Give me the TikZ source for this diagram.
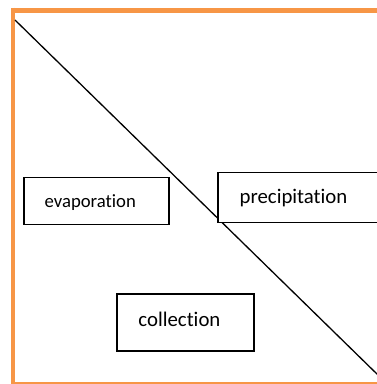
\documentclass[tikz,border=0pt]{standalone}
\usepackage{fontspec}
\setmainfont{Carlito}[RawFeature={-liga;-clig;-dlig}]
\definecolor{frameorange}{RGB}{247,150,70}
\begin{document}
\begin{tikzpicture}[x=1pt,y=-1pt,
  boxshape/.style={draw=black,line width=1.4pt,rectangle,inner sep=0pt},
  lblsmall/.style={anchor=base west,inner sep=0pt,font=\fontsize{18.7}{22}\selectfont},
  lblbig/.style={anchor=base west,inner sep=0pt,font=\fontsize{20.8}{24}\selectfont},
  framestroke/.style={draw=frameorange,line cap=butt}]
\useasboundingbox (0,0) rectangle (377,384);
\clip (0,0) rectangle (377,384);
% orange frame
\coordinate (ftl) at (11,10);
\coordinate (ftr) at (378,10);
\coordinate (flt) at (13,7.5);
\coordinate (flb) at (13,384);
\coordinate (fbl) at (11,383);
\coordinate (fbr) at (378,383);
\draw[framestroke,line width=5pt] (ftl) -- (ftr);
\draw[framestroke,line width=4.5pt] (flt) -- (flb);
\draw[framestroke,line width=1.2pt] (fbl) -- (fbr);
% diagonal
\coordinate (dstart) at (15,20);
\coordinate (dend) at (378,375);
\draw[line width=1.3pt,black] (dstart) -- (dend);
% boxes
\node[boxshape,minimum width=145pt,minimum height=47.5pt,fill=white] (evapbox) at (96.5,201) {};
\node[boxshape,minimum width=165pt,minimum height=50pt,fill=white] (precbox) at (300.5,197.5) {};
\node[boxshape,minimum width=137pt,minimum height=57pt,fill=white] (collbox) at (185.5,322.5) {};
% labels
\node[lblsmall] (evap) at (44.5,207.5) {evaporation};
\node[lblbig] (prec) at (239.5,203.2) {precipitation};
\node[lblbig] (coll) at (138.3,326.5) {collection};
\end{tikzpicture}
\end{document}
